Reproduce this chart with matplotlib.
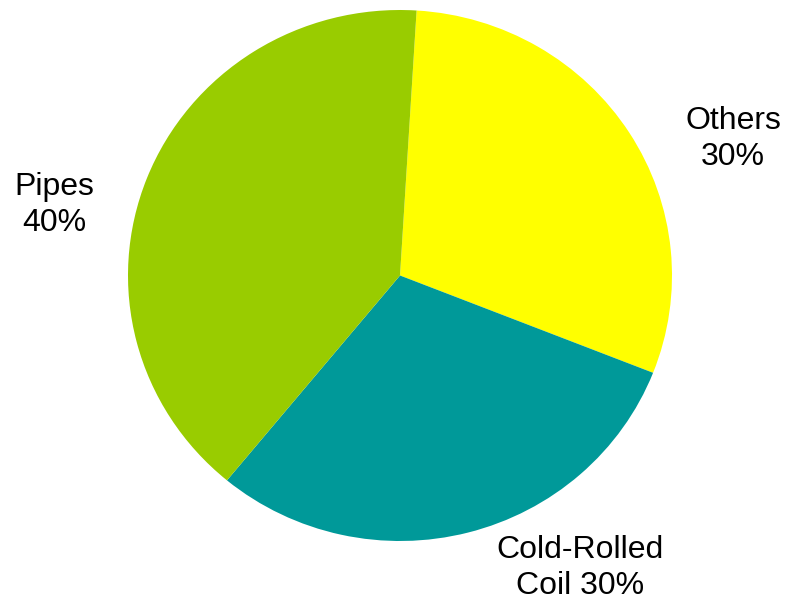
import matplotlib.pyplot as plt

plt.rcParams['font.family'] = ['Liberation Sans', 'DejaVu Sans']

# data
categories = ["Others", "Cold-Rolled Coil", "Pipes"]
shares = [30, 30, 40]
colors = ["#FFFF00", "#009999", "#99CC00"]
label_texts = ["Others\n30%", "Cold-Rolled\nCoil 30%", "Pipes\n40%"]

W, H = 795, 603
fig = plt.figure(figsize=(W / 100, H / 100), dpi=100)

# pie box in pixels: x 128..672, y 10..541 (from top)
left, right, top, bottom = 128, 672, 10, 541
ax = fig.add_axes([left / W, (H - bottom) / H, (right - left) / W, (bottom - top) / H])
ax.pie(shares, colors=colors, startangle=86.5, counterclock=False,
       wedgeprops=dict(linewidth=0))
ax.set_aspect('auto')
ax.set_xlim(-1, 1)
ax.set_ylim(-1, 1)
ax.axis('off')

# label positions (pixel centres)
label_pos = [(733, 139), (580, 568), (54, 205)]
for txt, (px, py) in zip(label_texts, label_pos):
    fig.text(px / W, 1 - py / H, txt, ha='center', va='center',
             fontsize=23, linespacing=1.3, color='black')

fig.savefig("out.png", dpi=100)
